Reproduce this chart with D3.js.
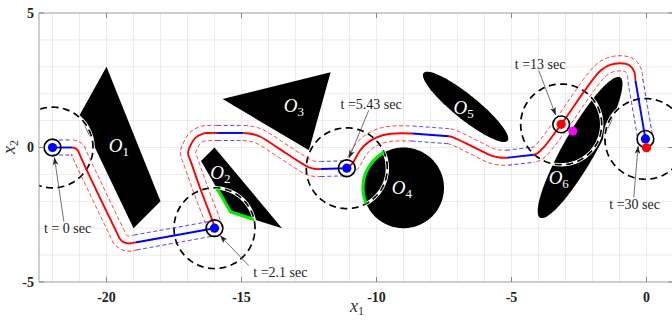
<!DOCTYPE html>
<html><head><meta charset="utf-8">
<script src="https://cdn.jsdelivr.net/npm/d3@7"></script>
<style>body{margin:0;background:#fff}svg{display:block}</style>
</head><body>
<svg id="c" width="672" height="320"></svg>
<script>
// ---------------- data ----------------
const xTicks = [-20, -15, -10, -5, 0];
const yTicks = [-5, 0, 5];
const xDomain = [-22.5, 1];
const yDomain = [-5, 5];

const obstaclePolys = [
  {name: "1", pts: [[-20, 3], [-21, 1.2], [-19, -3], [-18, -2]]},
  {name: "2", pts: [[-16, 0], [-16.5, -0.5], [-15.4, -2.4], [-13.5, -3]]},
  {name: "3", pts: [[-15.7, 1.8], [-11.7, 2.8], [-12.5, -0.1]]}
];
const obstacleCircles = [{name: "4", cx: -9, cy: -1.5, r: 1.5}];
const obstacleEllipses = [
  {name: "5", cx: -6.7, cy: 1.51, a: 2.0, b: 0.45, deg: -39},
  {name: "6", cx: -2.46, cy: 0, a: 3.0, b: 0.6, deg: 60.4}
];
const obstacleLabels = [
  ["1", -19.54, 0.03], ["2", -15.78, -0.96], ["3", -13.06, 1.52],
  ["4", -9.06, -1.52], ["5", -6.77, 1.44], ["6", -3.25, -1.14]
];

const trajectory = [
  {mode: "blue", pts: [[-22, 0], [-21.28, 0]]},
  {mode: "red", pts: [[-21.28, 0], [-21.15, -0.03], [-21.05, -0.12], [-21.0, -0.25], [-19.6, -3.2], [-19.5, -3.4], [-19.35, -3.53], [-19.15, -3.57], [-18.93, -3.53]]},
  {mode: "blue", pts: [[-18.93, -3.53], [-16, -3.0]]},
  {mode: "red", pts: [[-16, -3.0], [-16.05, -2.8], [-16.5, -1.6], [-16.85, -0.6], [-16.98, -0.2], [-16.9, 0.05], [-16.72, 0.35], [-16.45, 0.51], [-16.2, 0.54], [-15.9, 0.54]]},
  {mode: "blue", pts: [[-15.9, 0.54], [-14.93, 0.54]]},
  {mode: "red", pts: [[-14.93, 0.54], [-14.6, 0.5], [-14.3, 0.4], [-14.05, 0.25], [-13.55, -0.08], [-12.75, -0.6], [-12.5, -0.74], [-12.25, -0.8], [-12.07, -0.8]]},
  {mode: "blue", pts: [[-12.07, -0.8], [-11.1, -0.77]]},
  {mode: "red", pts: [[-11.1, -0.77], [-10.9, -0.6], [-10.6, -0.1], [-10.3, 0.2], [-9.97, 0.39], [-9.48, 0.51], [-8.68, 0.52]]},
  {mode: "blue", pts: [[-8.68, 0.52], [-7.32, 0.42]]},
  {mode: "red", pts: [[-7.32, 0.42], [-7.14, 0.37], [-6.27, -0.05], [-5.78, -0.29], [-5.45, -0.37], [-5.16, -0.38]]},
  {mode: "blue", pts: [[-5.16, -0.38], [-4.17, -0.27]]},
  {mode: "red", pts: [[-4.17, -0.27], [-4.02, -0.2], [-3.8, 0.01], [-3.16, 0.86], [-1.7, 2.86], [-1.35, 3.07], [-0.96, 3.13], [-0.62, 3.05], [-0.45, 2.8], [-0.41, 2.49]]},
  {mode: "blue", pts: [[-0.41, 2.49], [-0.04, 0.32]]}
];
const tubeHalfWidth = 0.28;

const sensorPoints = [
  {x: -22, y: 0, dot: "#0000ff"},
  {x: -16, y: -3.0, dot: "#0000ff"},
  {x: -11.1, y: -0.77, dot: "#0000ff"},
  {x: -3.16, y: 0.86, dot: "#ff0000"},
  {x: -0.04, y: 0.32, dot: "#0000ff"}
];
const sensorRadius = 1.5;
const ringRadius = 0.31;
const dotRadius = 0.17;
const extraDots = [{x: -2.73, y: 0.61, color: "#ff00ff"}, {x: 0, y: -0.01, color: "#ff0000"}];
// contact arcs: obstacle boundary inside the sensing circle of a sensor point
const contacts = [{obstacle: "2", sensor: 1}, {obstacle: "4", sensor: 2}];

const annotations = [
  {label: "t = 0 sec", tx: -21.44, ty: -3.01, a0: [-21.58, -2.75], a1: [-21.93, -0.36]},
  {label: "t =2.1 sec", tx: -13.56, ty: -4.64, a0: [-14.73, -4.39], a1: [-15.8, -3.27]},
  {label: "t =5.43 sec", tx: -10.2, ty: 1.62, a0: [-10.29, 1.38], a1: [-11.02, -0.4]},
  {label: "t =13 sec", tx: -3.94, ty: 3.11, a0: [-3.99, 2.86], a1: [-3.36, 1.2]},
  {label: "t =30 sec", tx: -0.44, ty: -2.09, a0: [-0.47, -1.85], a1: [-0.31, 0.06]}
];

// ---------------- drawing ----------------
const svg = d3.select("#c");
const x = d3.scaleLinear().domain(xDomain).range([39, 673.5]);
const y = d3.scaleLinear().domain(yDomain).range([282, 13]);
const ux = x(1) - x(0), uy = y(0) - y(1);

const defs = svg.append("defs");
defs.append("clipPath").attr("id", "plotclip").append("rect")
  .attr("x", x(xDomain[0])).attr("y", y(yDomain[1]))
  .attr("width", x(xDomain[1]) - x(xDomain[0])).attr("height", y(yDomain[0]) - y(yDomain[1]));
defs.append("marker").attr("id", "arr").attr("viewBox", "0 0 10 10")
  .attr("refX", 10).attr("refY", 5).attr("markerWidth", 8).attr("markerHeight", 8)
  .attr("markerUnits", "userSpaceOnUse").attr("orient", "auto")
  .append("path").attr("d", "M0,1.5 L10,5 L0,8.5 L2.5,5 Z").attr("fill", "#222");

const plot = svg.append("g").attr("clip-path", "url(#plotclip)");

// grid
const gridXs = d3.range(-22, 1.001, 1), gridYs = d3.range(-5, 5.001, 1);
plot.append("g").selectAll("line").data(gridXs).join("line")
  .attr("x1", d => x(d)).attr("x2", d => x(d)).attr("y1", y(-5)).attr("y2", y(5))
  .attr("stroke", "#e6e6e6").attr("stroke-width", 0.8);
plot.append("g").selectAll("line").data(gridYs).join("line")
  .attr("y1", d => y(d)).attr("y2", d => y(d)).attr("x1", x(xDomain[0])).attr("x2", x(xDomain[1]))
  .attr("stroke", "#e6e6e6").attr("stroke-width", 0.8);

// obstacle shapes (in data coords)
const lin = d3.line().x(d => x(d[0])).y(d => y(d[1]));
function ellipsePts(cx, cy, a, b, deg) {
  const th = deg * Math.PI / 180, out = [];
  for (let i = 0; i < 180; i++) {
    const t = i / 180 * 2 * Math.PI;
    out.push([cx + a * Math.cos(t) * Math.cos(th) - b * Math.sin(t) * Math.sin(th),
              cy + a * Math.cos(t) * Math.sin(th) + b * Math.sin(t) * Math.cos(th)]);
  }
  return out;
}
const shapes = {};
obstaclePolys.forEach(o => shapes[o.name] = o.pts);
obstacleCircles.forEach(o => shapes[o.name] = ellipsePts(o.cx, o.cy, o.r, o.r, 0));
obstacleEllipses.forEach(o => shapes[o.name] = ellipsePts(o.cx, o.cy, o.a, o.b, o.deg));
Object.keys(shapes).forEach(k => {
  plot.append("path").attr("d", lin(shapes[k]) + "Z").attr("fill", "#000");
});

// sensing circles
sensorPoints.forEach((s, i) => {
  const pts = ellipsePts(s.x, s.y, sensorRadius, sensorRadius, 0);
  defs.append("clipPath").attr("id", "sc" + i).append("path").attr("d", lin(pts) + "Z");
  plot.append("path").attr("d", lin(pts) + "Z").attr("fill", "none")
    .attr("stroke", "#fff").attr("stroke-width", 3.4);
  plot.append("path").attr("d", lin(pts) + "Z").attr("fill", "none")
    .attr("stroke", "#000").attr("stroke-width", 1.7).attr("stroke-dasharray", "7,4.5");
});

// contact arcs
contacts.forEach(c => {
  plot.append("g").attr("clip-path", "url(#sc" + c.sensor + ")")
    .append("path").attr("d", lin(shapes[c.obstacle]) + "Z").attr("fill", "none")
    .attr("stroke", "#00ee00").attr("stroke-width", 3.2).attr("stroke-linejoin", "round");
});

// trajectory
const colorOf = m => m === "red" ? "#ff0000" : "#0000ff";
const curveLine = d3.line().x(d => x(d[0])).y(d => y(d[1])).curve(d3.curveCatmullRom.alpha(0.5));
const pxLine = d3.line();
const tubeG = plot.append("g"), trajG = plot.append("g");
trajectory.forEach(seg => {
  const p = trajG.append("path").attr("d", curveLine(seg.pts)).attr("fill", "none")
    .attr("stroke", colorOf(seg.mode)).attr("stroke-width", 1.9).attr("stroke-linecap", "butt");
  const node = p.node(), L = node.getTotalLength();
  const n = Math.max(2, Math.ceil(L));
  const s = [];
  for (let i = 0; i <= n; i++) { const q = node.getPointAtLength(L * i / n); s.push([q.x, q.y]); }
  const d = tubeHalfWidth * (ux + uy) / 2;
  [1, -1].forEach(sign => {
    const off = s.map((q, i) => {
      const a = s[Math.max(0, i - 1)], b = s[Math.min(s.length - 1, i + 1)];
      const tx = b[0] - a[0], ty = b[1] - a[1], l = Math.hypot(tx, ty) || 1;
      return [q[0] - ty / l * d * sign, q[1] + tx / l * d * sign];
    });
    tubeG.append("path").attr("d", pxLine(off)).attr("fill", "none")
      .attr("stroke", colorOf(seg.mode)).attr("stroke-width", 0.8).attr("stroke-dasharray", "4,2.5");
  });
});

// rings and dots
sensorPoints.forEach(s => {
  plot.append("circle").attr("cx", x(s.x)).attr("cy", y(s.y)).attr("r", ringRadius * ux)
    .attr("fill", "none").attr("stroke", "#000").attr("stroke-width", 1.6);
  plot.append("circle").attr("cx", x(s.x)).attr("cy", y(s.y)).attr("r", dotRadius * ux).attr("fill", s.dot);
});
extraDots.forEach(s => {
  plot.append("circle").attr("cx", x(s.x)).attr("cy", y(s.y)).attr("r", dotRadius * ux).attr("fill", s.color);
});

// obstacle labels
obstacleLabels.forEach(([n, lx, ly]) => {
  const t = plot.append("text").attr("x", x(lx)).attr("y", y(ly)).attr("dy", "0.35em")
    .attr("text-anchor", "middle").attr("fill", "#fff")
    .style("font-family", "'Liberation Serif', serif");
  t.append("tspan").text("O").style("font-style", "italic").style("font-size", "19px");
  t.append("tspan").text(n).attr("dy", 4).style("font-size", "13px");
});

// annotations
annotations.forEach(a => {
  plot.append("line").attr("x1", x(a.a0[0])).attr("y1", y(a.a0[1]))
    .attr("x2", x(a.a1[0])).attr("y2", y(a.a1[1]))
    .attr("stroke", "#333").attr("stroke-width", 0.7).attr("marker-end", "url(#arr)");
  plot.append("text").attr("x", x(a.tx)).attr("y", y(a.ty)).attr("dy", "0.35em")
    .attr("text-anchor", "middle").attr("fill", "#222")
    .style("font-family", "'Liberation Serif', serif").style("font-size", "14px").text(a.label);
});

// frame and ticks
const fr = svg.append("g");
fr.append("rect").attr("x", x(xDomain[0])).attr("y", y(yDomain[1]))
  .attr("width", x(xDomain[1]) - x(xDomain[0])).attr("height", y(yDomain[0]) - y(yDomain[1]))
  .attr("fill", "none").attr("stroke", "#a0a0a0").attr("stroke-width", 1);
xTicks.forEach(t => {
  fr.append("line").attr("x1", x(t)).attr("x2", x(t)).attr("y1", y(-5)).attr("y2", y(-5) - 5).attr("stroke", "#888");
  fr.append("line").attr("x1", x(t)).attr("x2", x(t)).attr("y1", y(5)).attr("y2", y(5) + 5).attr("stroke", "#888");
  fr.append("text").attr("x", x(t)).attr("y", 301.5).attr("text-anchor", "middle")
    .style("font-family", "'Liberation Serif', serif").style("font-weight", "bold").style("font-size", "14px")
    .attr("fill", "#222").text(t);
});
yTicks.forEach(t => {
  fr.append("line").attr("y1", y(t)).attr("y2", y(t)).attr("x1", x(xDomain[0])).attr("x2", x(xDomain[0]) + 5).attr("stroke", "#888");
  fr.append("line").attr("y1", y(t)).attr("y2", y(t)).attr("x1", x(xDomain[1])).attr("x2", x(xDomain[1]) - 5).attr("stroke", "#888");
  fr.append("text").attr("x", 34).attr("y", y(t)).attr("dy", "0.35em").attr("text-anchor", "end")
    .style("font-family", "'Liberation Serif', serif").style("font-weight", "bold").style("font-size", "14px")
    .attr("fill", "#222").text(t);
});
// axis titles
const xt = svg.append("text").attr("x", 357).attr("y", 312).attr("text-anchor", "middle")
  .style("font-family", "'Liberation Serif', serif").attr("fill", "#333");
xt.append("tspan").text("x").style("font-style", "italic").style("font-size", "18px");
xt.append("tspan").text("1").attr("dy", 3).style("font-size", "12px");
const yt = svg.append("text").attr("transform", "translate(15,147) rotate(-90)").attr("text-anchor", "middle")
  .style("font-family", "'Liberation Serif', serif").attr("fill", "#333");
yt.append("tspan").text("x").style("font-style", "italic").style("font-size", "18px");
yt.append("tspan").text("2").attr("dy", 3).style("font-size", "12px");
</script>
</body></html>
